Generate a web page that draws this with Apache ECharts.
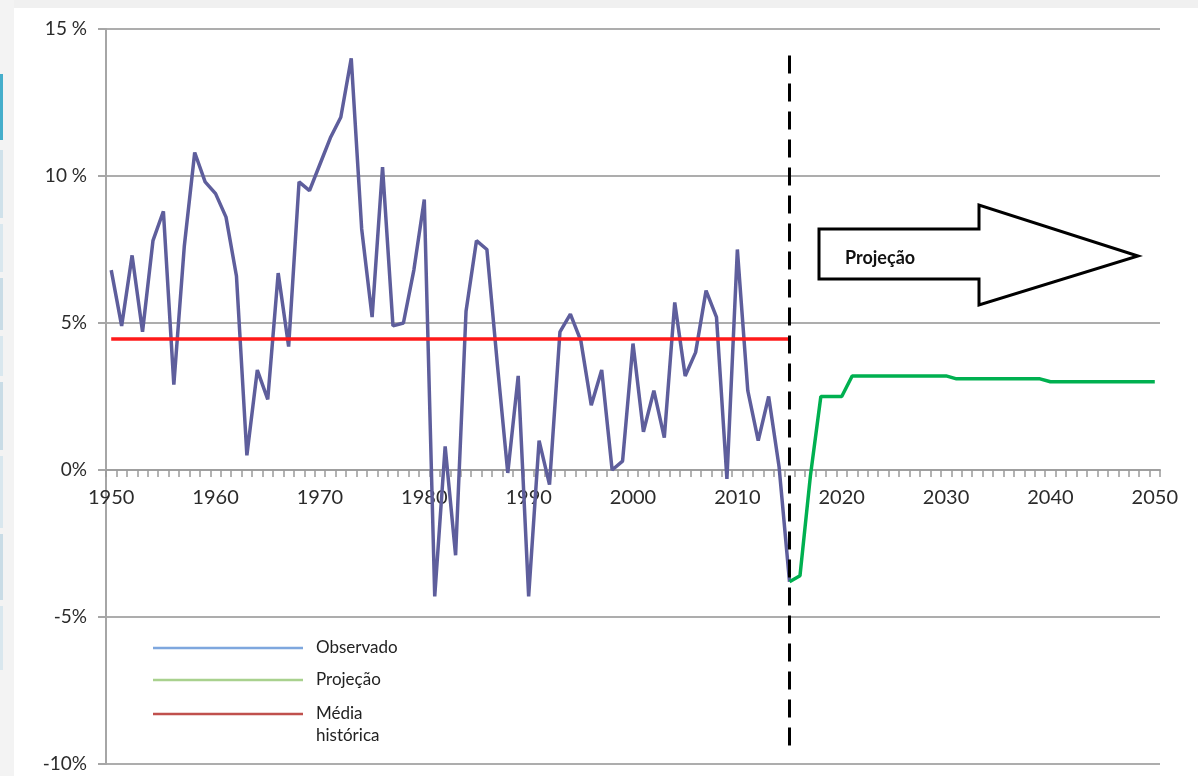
<!DOCTYPE html>
<html>
<head>
<meta charset="utf-8">
<script src="https://cdn.jsdelivr.net/npm/echarts@6/dist/echarts.min.js"></script>
<style>
    html, body { margin: 0; padding: 0; background: #ffffff; }
    #growth-chart { width: 1198px; height: 776px; }
</style>
</head>
<body>
<div id="growth-chart"></div>
<script>
// anos 1950..2050 (eixo de categorias)
var firstYear = 1950;
var lastYear = 2050;
var years = [];
for (var y = firstYear; y <= lastYear; y++) {
    years.push(String(y));
}

// crescimento observado, 1950..2015 (%)
var observado = [
    6.8, 4.9, 7.3, 4.7, 7.8, 8.8, 2.9, 7.6, 10.8, 9.8,
    9.4, 8.6, 6.6, 0.5, 3.4, 2.4, 6.7, 4.2, 9.8, 9.5,
    10.4, 11.3, 12.0, 14.0, 8.2, 5.2, 10.3, 4.9, 5.0, 6.8,
    9.2, -4.3, 0.8, -2.9, 5.4, 7.8, 7.5, 3.6, -0.1, 3.2,
    -4.3, 1.0, -0.5, 4.7, 5.3, 4.4, 2.2, 3.4, 0.0, 0.3,
    4.3, 1.3, 2.7, 1.1, 5.7, 3.2, 4.0, 6.1, 5.2, -0.3,
    7.5, 2.7, 1.0, 2.5, 0.1, -3.8
];

// projeção, 2015..2050 (%)
var projecaoStart = '2015';
var projecao = [
    -3.8, -3.6, -0.2, 2.5, 2.5, 2.5,
    3.2, 3.2, 3.2, 3.2, 3.2, 3.2, 3.2, 3.2, 3.2, 3.2,
    3.1, 3.1, 3.1, 3.1, 3.1, 3.1, 3.1, 3.1, 3.1,
    3.0, 3.0, 3.0, 3.0, 3.0, 3.0, 3.0, 3.0, 3.0, 3.0, 3.0
];

// média histórica
var mediaHistorica = 4.45;
var mediaFrom = '1950';
var mediaTo = '2015';

// divisória observado / projeção
var corteAno = '2015';
var corteTopo = 14.1;
var corteBase = -9.45;

var yMin = -10;
var yMax = 15;
var yStep = 5;
var yLabels = { '15': '15 %', '10': '10 %', '5': '5%', '0': '0%', '-5': '-5%', '-10': '-10%' };

var legendItems = [
    { text: 'Observado', color: '#7ea7de' },
    { text: 'Projeção', color: '#a9d18e' },
    { text: 'Média\nhistórica', color: '#c0504d' }
];

var font = 'Lato, "Open Sans", sans-serif';

// séries alinhadas ao eixo
var obsData = [];
var projData = [];
var projIdx = years.indexOf(projecaoStart);
for (var i = 0; i < years.length; i++) {
    obsData.push(i < observado.length ? observado[i] : null);
    projData.push(i >= projIdx && i - projIdx < projecao.length ? projecao[i - projIdx] : null);
}

// grade
var gridTop = 29;
var gridBottom = 12;
var gridHeight = 776 - gridTop - gridBottom;
// eixo x desenhado na linha do zero
var zeroOffset = -Math.round(gridHeight * (0 - yMin) / (yMax - yMin));

var chart = echarts.init(document.getElementById('growth-chart'));

// moldura da página + legenda + seta
var graphics = [
    { type: 'rect', z: -10, shape: { x: 0, y: 0, width: 1198, height: 8 }, style: { fill: '#f0f0f0' } },
    { type: 'rect', z: -10, shape: { x: 0, y: 0, width: 14, height: 776 }, style: { fill: '#f3f3f3' } },
    { type: 'rect', z: -9, shape: { x: 0, y: 74, width: 3, height: 66 }, style: { fill: '#45aecb' } },
    { type: 'rect', z: -9, shape: { x: 0, y: 150, width: 3, height: 68 }, style: { fill: '#cfe1ea' } },
    { type: 'rect', z: -9, shape: { x: 0, y: 224, width: 3, height: 48 }, style: { fill: '#d9e7ee' } },
    { type: 'rect', z: -9, shape: { x: 0, y: 278, width: 3, height: 52 }, style: { fill: '#c9dce6' } },
    { type: 'rect', z: -9, shape: { x: 0, y: 336, width: 3, height: 40 }, style: { fill: '#d9e7ee' } },
    { type: 'rect', z: -9, shape: { x: 0, y: 382, width: 3, height: 68 }, style: { fill: '#c9dce6' } },
    { type: 'rect', z: -9, shape: { x: 0, y: 456, width: 3, height: 72 }, style: { fill: '#d9e7ee' } },
    { type: 'rect', z: -9, shape: { x: 0, y: 534, width: 3, height: 66 }, style: { fill: '#c9dce6' } },
    { type: 'rect', z: -9, shape: { x: 0, y: 606, width: 3, height: 64 }, style: { fill: '#d9e7ee' } },
    {
        type: 'polygon',
        z: 20,
        shape: { points: [[819, 229], [979, 229], [979, 205], [1138, 256], [979, 305], [979, 279], [819, 279]] },
        style: { fill: '#ffffff', stroke: '#000000', lineWidth: 3, lineJoin: 'miter' }
    },
    {
        type: 'text',
        z: 21,
        x: 845,
        y: 258,
        style: { text: 'Projeção', font: 'bold 18px ' + font, fill: '#111111', verticalAlign: 'middle' }
    }
];

var legendY = [648, 680, 714];
legendItems.forEach(function (item, k) {
    graphics.push({
        type: 'line',
        z: 20,
        shape: { x1: 153, y1: legendY[k], x2: 303, y2: legendY[k] },
        style: { stroke: item.color, lineWidth: 2.5 }
    });
    graphics.push({
        type: 'text',
        z: 20,
        x: 316,
        y: legendY[k] - 11,
        style: { text: item.text, font: '17px ' + font, fill: '#222222', lineHeight: 22, verticalAlign: 'top' }
    });
});

option = {
    backgroundColor: '#ffffff',
    animation: false,
    grid: {
        left: 106,
        right: 38,
        top: gridTop,
        bottom: gridBottom,
        outerBoundsMode: 'none'
    },
    xAxis: {
        type: 'category',
        data: years,
        boundaryGap: true,
        position: 'bottom',
        offset: zeroOffset,
        axisLine: { show: true, onZero: false, lineStyle: { color: '#9f9f9f', width: 2 } },
        axisTick: {
            show: true,
            inside: false,
            alignWithLabel: false,
            interval: 0,
            length: 7,
            lineStyle: { color: '#9a9a9a', width: 1.5 }
        },
        axisLabel: {
            show: true,
            interval: 9,
            margin: 18,
            color: '#2b2b2b',
            fontSize: 20,
            fontFamily: font
        },
        splitLine: { show: false }
    },
    yAxis: {
        type: 'value',
        min: yMin,
        max: yMax,
        interval: yStep,
        axisLine: { show: true, lineStyle: { color: '#a6a6a6', width: 2 } },
        axisTick: { show: true, length: 8, lineStyle: { color: '#a6a6a6', width: 2 } },
        axisLabel: {
            margin: 19,
            color: '#2b2b2b',
            fontSize: 19,
            fontFamily: font,
            formatter: function (v) {
                return yLabels[String(v)];
            }
        },
        splitLine: { show: true, lineStyle: { color: '#adadad', width: 2 } }
    },
    series: [
        {
            name: 'Observado',
            type: 'line',
            data: obsData,
            symbol: 'none',
            connectNulls: false,
            lineStyle: { color: '#5e5e9c', width: 3.5 },
            z: 3
        },
        {
            name: 'Projeção',
            type: 'line',
            data: projData,
            symbol: 'none',
            connectNulls: false,
            lineStyle: { color: '#00b050', width: 3.5 },
            z: 3
        },
        {
            name: 'Média histórica',
            type: 'line',
            data: [],
            symbol: 'none',
            z: 4,
            markLine: {
                silent: true,
                symbol: ['none', 'none'],
                label: { show: false },
                data: [
                    [
                        { coord: [mediaFrom, mediaHistorica], lineStyle: { color: '#ff1a1a', width: 3.5, type: 'solid' } },
                        { coord: [mediaTo, mediaHistorica] }
                    ],
                    [
                        { coord: [corteAno, corteTopo], lineStyle: { color: '#000000', width: 3, type: [18, 10] } },
                        { coord: [corteAno, corteBase] }
                    ]
                ]
            }
        }
    ],
    graphic: graphics
};

chart.setOption(option);
</script>
</body>
</html>
